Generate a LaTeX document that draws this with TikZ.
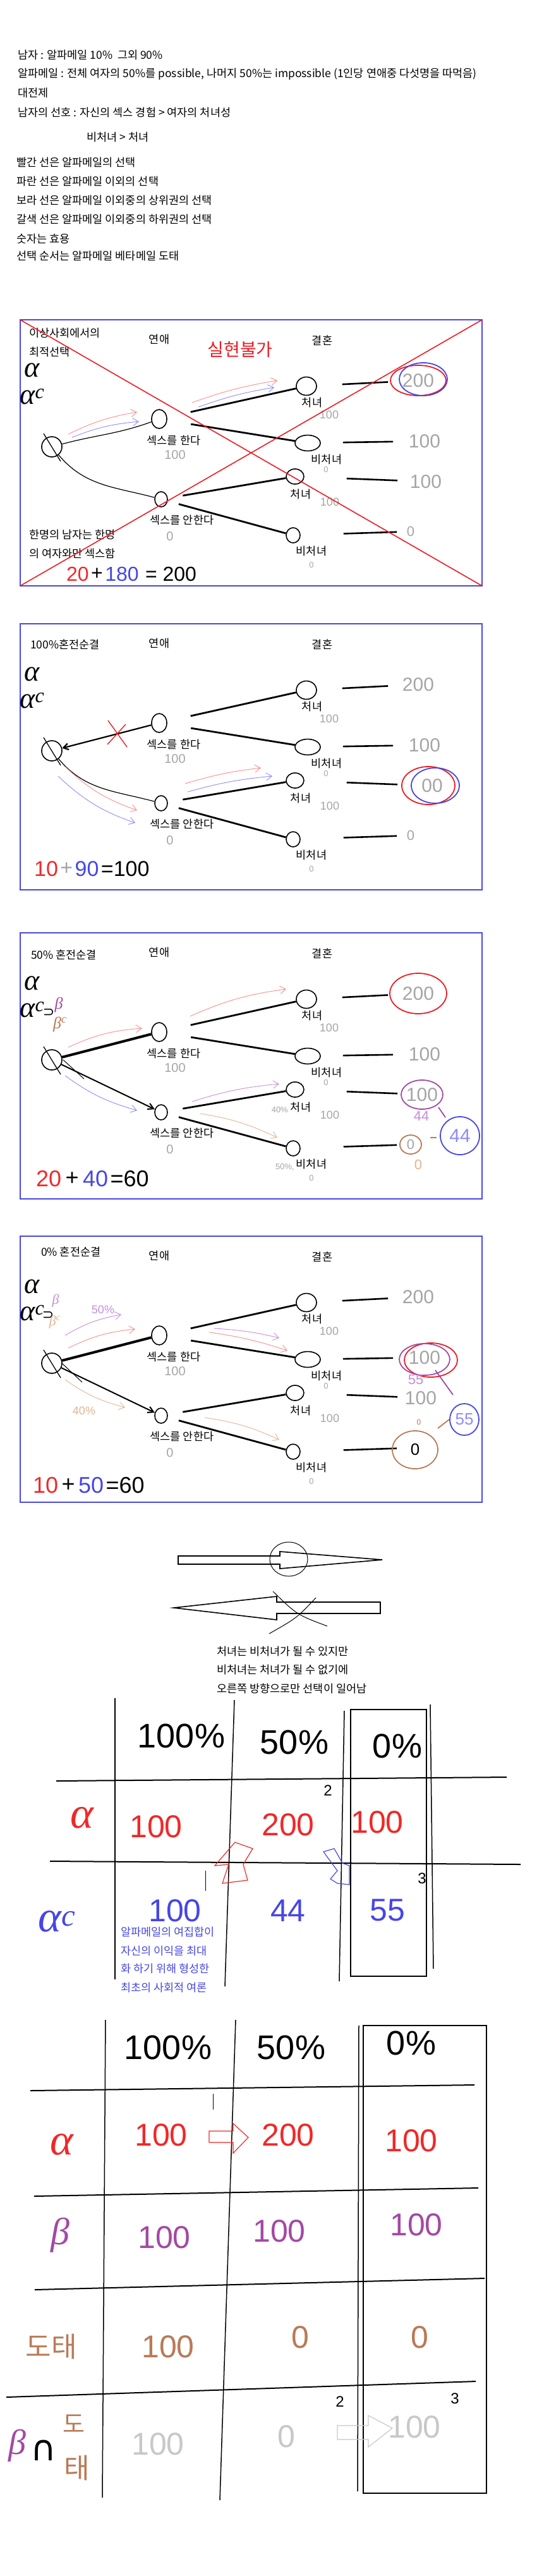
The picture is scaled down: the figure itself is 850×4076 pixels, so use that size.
\documentclass[tikz,border=0pt]{standalone}
\usepackage{fontspec}
\setmainfont{Liberation Sans}
\newfontfamily\kr{Noto Sans CJK KR}
\newfontfamily\grk{Liberation Serif}
\newfontfamily\sym{DejaVu Sans}
\usetikzlibrary{arrows.meta,shapes.geometric,positioning,calc}
\definecolor{boxblue}{RGB}{72,72,224}
\definecolor{xred}{RGB}{237,28,36}
\definecolor{penred}{RGB}{240,40,40}
\definecolor{penpink}{RGB}{250,140,140}
\definecolor{penblue}{RGB}{70,70,230}
\definecolor{penlblue}{RGB}{140,140,250}
\definecolor{penpurple}{RGB}{163,73,164}
\definecolor{penlpurple}{RGB}{200,140,220}
\definecolor{penbrown}{RGB}{185,122,87}
\definecolor{penlbrown}{RGB}{225,180,145}
\definecolor{pengray}{RGB}{165,165,165}
\definecolor{penlgray}{RGB}{200,200,200}
\tikzset{
  kortext/.style={font=\kr\fontsize{17.5}{20}\selectfont,inner sep=0pt},
  hand/.style={font=\fontsize{#1}{#1}\selectfont,inner sep=0pt},
  greek/.style={font=\grk\itshape\fontsize{#1}{#1}\selectfont,inner sep=0pt},
  choice/.style={draw,ellipse,line width=1.6pt,inner sep=0pt},
  branch/.style={line width=2.8pt},
  payoff/.style={line width=2.6pt},
  pen/.style={line width=0.9pt,-{Straight Barb[length=9pt,width=12pt]}},
  ring/.style={line width=1.8pt},
  grid/.style={line width=1.5pt},
}
% one game tree box: #1 name prefix, #2 top edge
\newcommand\gametree[2]{%
  \begin{scope}[yshift=-#2pt]
    \coordinate (#1nw) at (32,0);
    \coordinate (#1ne) at (763,0);
    \coordinate (#1sw) at (32,421);
    \coordinate (#1se) at (763,421);
    \draw[boxblue,line width=2.2pt] (#1nw) rectangle (#1se);
    \node[kortext] (#1dating) at (252,31) {연애};
    \node[kortext] (#1marriage) at (510,33) {결혼};
    \node[greek=46] (#1alpha) at (51,80) {α};
    \node[greek=46] (#1alphac) at (51,122) {α\textsuperscript{c}};
    % choice nodes
    \node[choice,minimum width=32pt,minimum height=32pt] (#1root) at (82,201) {};
    \draw[line width=1.3pt] ([shift={(-13,-21)}]#1root.center) -- ([shift={(14,23)}]#1root.center);
    \node[choice,minimum width=24pt,minimum height=30pt] (#1sex) at (252,157) {};
    \node[choice,minimum width=20pt,minimum height=24pt] (#1nosex) at (255,284) {};
    \node[kortext] (#1sexlbl) at (275,191) {섹스를 한다};
    \node[hand=20,pengray] (#1sexval) at (277,214) {100};
    \node[kortext] (#1nosexlbl) at (288,317) {섹스를 안한다};
    \node[hand=20,pengray] (#1nosexval) at (269,343) {0};
    \node[choice,minimum width=32pt,minimum height=29pt] (#1v1) at (485,105) {};
    \node[choice,minimum width=40pt,minimum height=25pt] (#1n1) at (487,195) {};
    \node[choice,minimum width=28pt,minimum height=24pt] (#1v2) at (467,248) {};
    \node[choice,minimum width=22pt,minimum height=24pt] (#1n2) at (464,341) {};
    \node[kortext] (#1v1lbl) at (494,131) {처녀};
    \node[hand=18,pengray] (#1v1val) at (521,150) {100};
    \node[kortext] (#1n1lbl) at (517,221) {비처녀};
    \node[hand=13,pengray] (#1n1val) at (516,237) {0};
    \node[kortext] (#1v2lbl) at (476,276) {처녀};
    \node[hand=18,pengray] (#1v2val) at (522,288) {100};
    \node[kortext] (#1n2lbl) at (493,366) {비처녀};
    \node[hand=13,pengray] (#1n2val) at (493,388) {0};
    \draw[branch,shorten <=38pt] (#1sex) -- (#1v1);
    \draw[branch,shorten <=38pt] (#1sex) -- (#1n1);
    \draw[branch,shorten <=24pt] (#1nosex) -- (#1v2);
    \draw[branch,shorten <=18pt] (#1nosex) -- (#1n2);
    % payoffs
    \coordinate (#1p1) at (662,96);
    \coordinate (#1p2) at (672,192);
    \coordinate (#1p3) at (674,256);
    \coordinate (#1p4) at (650,335);
    \draw[payoff,shorten <=40pt,shorten >=48pt] (#1v1) -- (#1p1);
    \draw[payoff,shorten <=35pt,shorten >=50pt] (#1n1) -- (#1p2);
    \draw[payoff,shorten <=67pt,shorten >=45pt] (#1v2) -- (#1p3);
    \draw[payoff,shorten <=68pt,shorten >=22pt] (#1n2) -- (#1p4);
  \end{scope}}

\begin{document}
\begin{tikzpicture}[x=1pt,y=-1pt]
\useasboundingbox (0,0) rectangle (850,4076);

% premises
\node[kortext,anchor=west] (premise) at (28,87) {남자 : 알파메일 10\%\ \ 그외 90\%};
\node[kortext,anchor=west] (premiseb) at (28,117) {알파메일 : 전체 여자의 50\%를 possible, 나머지 50\%는 impossible (1인당 연애중 다섯명을 따먹음)};
\node[kortext,anchor=west] (premisec) at (28,147) {대전제};
\node[kortext,anchor=west] (pref) at (28,178) {남자의 선호 : 자신의 섹스 경험 > 여자의 처녀성};
\node[kortext,anchor=west] (prefb) at (137,217) {비처녀 > 처녀};
\node[kortext,anchor=west] (legend) at (26,257) {빨간 선은 알파메일의 선택};
\node[kortext,anchor=west] (legendb) at (26,287) {파란 선은 알파메일 이외의 선택};
\node[kortext,anchor=west] (legendc) at (26,317) {보라 선은 알파메일 이외중의 상위권의 선택};
\node[kortext,anchor=west] (legendd) at (26,347) {갈색 선은 알파메일 이외중의 하위권의 선택};
\node[kortext,anchor=west] (legende) at (26,378) {숫자는 효용};
\node[kortext,anchor=west] (legendf) at (26,405) {선택 순서는 알파메일 베타메일 도태};

% box 1
\gametree{ideal}{506}
\node[kortext,anchor=west] (idealtitle) at (46,527) {이상사회에서의};
\node[kortext,anchor=west] (idealtitleb) at (46,557) {최적선택};
\node[kortext,text=xred,font=\kr\fontsize{28}{30}\selectfont] (idealfail) at (380,553) {실현불가};
\draw[line width=1.2pt] (idealroot) to[out=15,in=200] (idealsex);
\draw[line width=1.2pt] (idealroot) to[out=-50,in=165] (idealnosex);
\draw[pen,penpink] (108,687) to[bend left=8] (217,652);
\draw[pen,penlblue] (114,692) to[bend left=8] (220,667);
\draw[pen,penpink] (304,637) to[bend left=5] (439,602);
\draw[pen,penlblue] (314,644) to[bend left=5] (434,613);
\node[hand=30,pengray] (idealu1) at (idealp1) {200};
\node[hand=30,pengray] (idealu2) at (idealp2) {100};
\node[hand=30,pengray] (idealu3) at (idealp3) {100};
\node[hand=22,pengray] (idealu4) at (idealp4) {0};
\draw[ring,xred] (idealu1) ellipse [x radius=44pt,y radius=24pt];
\draw[ring,penblue] ([xshift=8pt,yshift=2pt]idealu1) ellipse [x radius=38pt,y radius=26pt];
\node[kortext,anchor=west] (idealnote) at (46,846) {한명의 남자는 한명};
\node[kortext,anchor=west] (idealnoteb) at (46,876) {의 여자와만 섹스함};
\node[hand=32,penred,anchor=west] (idealsum) at (105,908) {20};
\node[hand=32,right=3pt of idealsum] (idealplus) {+};
\node[hand=32,penblue,right=3pt of idealplus] (idealbeta) {180};
\node[hand=32,right=10pt of idealbeta] (idealtotal) {= 200};
\draw[xred,line width=1.6pt] (idealnw) -- (idealse) (idealsw) -- (idealne);

% box 2
\gametree{full}{987}
\node[kortext,anchor=west] (fulltitle) at (48,1020) {100\%혼전순결};
\draw[line width=2.2pt,-{Straight Barb[length=8pt,width=10pt]}] (fullsex) -- (fullroot);
\draw[xred,line width=1.4pt] (171,1140) -- (201,1182) (199,1146) -- (170,1178);
\draw[line width=1.2pt] (fullroot) to[out=-50,in=165] (fullnosex);
\draw[pen,penpink] (103,1213) to[bend right=12] (217,1282);
\draw[pen,penlblue] (92,1228) to[bend right=12] (214,1302);
\draw[pen,penpink] (293,1240) to[bend left=5] (413,1215);
\draw[pen,penlblue] (297,1253) to[bend left=5] (431,1228);
\node[hand=30,pengray] (fullu1) at (fullp1) {200};
\node[hand=30,pengray] (fullu2) at (fullp2) {100};
\node[hand=30,pengray] (fullu3) at ([xshift=10pt]fullp3) {00};
\node[hand=22,pengray] (fullu4) at (fullp4) {0};
\draw[ring,xred] ([xshift=-6pt]fullu3) ellipse [x radius=42pt,y radius=30pt];
\draw[ring,penblue] ([xshift=5pt]fullu3) ellipse [x radius=38pt,y radius=28pt];
\node[hand=34,penred,anchor=west] (fullsum) at (54,1375) {10};
\node[hand=34,pengray,right=3pt of fullsum] (fullplus) {+};
\node[hand=34,penblue,right=3pt of fullplus] (fullbeta) {90};
\node[hand=34,right=3pt of fullbeta] (fulltotal) {=100};

% box 3
\gametree{half}{1476}
\node[kortext,anchor=west] (halftitle) at (49,1511) {50\% 혼전순결};
\node[font=\sym\fontsize{22}{22}\selectfont,inner sep=0pt] (halfsup) at (77,1602) {⊃};
\node[greek=26,penpurple] (halfbeta) at (93,1590) {β};
\node[greek=26,penbrown] (halfbetac) at (95,1621) {β\textsuperscript{c}};
\draw[line width=4pt] (halfroot) -- (halfsex);
\draw[line width=2pt,-{Straight Barb[length=9pt,width=10pt]}] (halfroot) -- (halfnosex);
\draw[line width=1pt] (100,1677) -- (133,1707);
\node[hand=13,pengray,anchor=east] (halfpct) at (456,1756) {40\%};
\node[hand=13,pengray,anchor=east] (halfpctb) at (466,1847) {50\%,};
\draw[pen,penpink] (108,1657) to[bend left=10] (225,1627);
\draw[pen,penpink] (301,1608) to[bend left=8] (453,1565);
\draw[pen,penlblue] (103,1702) to[bend right=10] (217,1757);
\draw[pen,penlpurple] (304,1743) to[bend left=6] (442,1715);
\draw[pen,penlbrown] (317,1762) to[bend left=8] (439,1800);
\node[hand=30,pengray] (halfu1) at (halfp1) {200};
\node[hand=30,pengray] (halfu2) at (halfp2) {100};
\node[hand=30,pengray] (halfu3) at ([xshift=-6pt]halfp3) {100};
\node[hand=22,pengray] (halfu4) at (halfp4) {0};
\draw[ring,xred] (halfu1) ellipse [x radius=45pt,y radius=32pt];
\draw[ring,penpurple] (halfu3) ellipse [x radius=33pt,y radius=23pt];
\node[hand=22,penlpurple] (halfshare) at (667,1766) {44};
\draw[ring,penpurple] (694,1752) -- (705,1768);
\node[hand=30,penlblue] (halfalt) at (728,1797) {44};
\draw[ring,penblue] (halfalt) ellipse [x radius=31pt,y radius=30pt];
\draw[ring,penbrown] (halfu4) ellipse [x radius=17pt,y radius=15pt];
\draw[ring,penbrown] (681,1800) -- (691,1800);
\node[hand=22,penlbrown] (halflow) at (662,1843) {0};
\node[hand=36,penred,anchor=west] (halfsum) at (57,1865) {20};
\node[hand=36,right=6pt of halfsum] (halfplus) {+};
\node[hand=36,penblue,right=6pt of halfplus] (halfbetasum) {40};
\node[hand=36,right=3pt of halfbetasum] (halftotal) {=60};

% box 4
\gametree{none}{1956}
\node[kortext,anchor=west] (nonetitle) at (65,1981) {0\% 혼전순결};
\node[font=\sym\fontsize{22}{22}\selectfont,inner sep=0pt] (nonesup) at (76,2081) {⊃};
\node[greek=22,penlpurple] (nonebeta) at (88,2058) {β};
\node[greek=22,penlbrown] (nonebetac) at (87,2092) {β\textsuperscript{c}};
\draw[line width=4pt] (noneroot) -- (nonesex);
\draw[line width=2pt,-{Straight Barb[length=9pt,width=10pt]}] (noneroot) -- (nonenosex);
\draw[line width=1pt] (98,2157) -- (130,2187);
\draw[pen,penlpurple] (103,2113) to[bend left=10] (192,2080);
\node[hand=18,penlpurple] (nonepcta) at (163,2072) {50\%};
\draw[pen,penpink] (108,2133) to[bend left=10] (214,2103);
\draw[pen,penlbrown] (103,2183) to[bend right=10] (198,2227);
\node[hand=18,penlbrown] (nonepctb) at (133,2232) {40\%};
\draw[pen,penlpurple] (339,2102) to[bend left=5] (442,2117);
\draw[pen,penpink] (331,2108) to[bend left=5] (455,2137);
\draw[pen,penlbrown] (324,2243) to[bend left=8] (442,2278);
\node[hand=30,pengray] (noneu1) at (nonep1) {200};
\node[hand=30,pengray] (noneu2) at (nonep2) {100};
\node[hand=30,pengray] (noneu3) at ([xshift=-8pt]nonep3) {100};
\node[hand=26] (noneu4) at ([xshift=7pt,yshift=-3pt]nonep4) {0};
\draw[ring,xred] ([xshift=10pt,yshift=-4pt]noneu2) ellipse [x radius=42pt,y radius=27pt];
\draw[ring,penpurple] ([yshift=-3pt]noneu2) ellipse [x radius=40pt,y radius=25pt];
\node[hand=22,penlpurple] (noneshare) at (658,2183) {55};
\draw[ring,penpurple] (689,2168) -- (717,2207);
\node[hand=12,penbrown] (nonelow) at (663,2250) {0};
\draw[ring,penbrown] (noneu4) ellipse [x radius=36pt,y radius=30pt];
\draw[ring,penbrown] (693,2260) -- (711,2246);
\node[hand=26,penlblue] (nonealt) at (735,2246) {55};
\draw[ring,penblue] (nonealt) ellipse [x radius=23pt,y radius=25pt];
\node[hand=36,penred,anchor=west] (nonesum) at (52,2350) {10};
\node[hand=36,right=5pt of nonesum] (noneplus) {+};
\node[hand=36,penblue,right=5pt of noneplus] (nonebetasum) {50};
\node[hand=36,right=3pt of nonebetasum] (nonetotal) {=60};

% direction arrows
\draw[line width=1.6pt] (282,2462) -- (443,2462) -- (443,2455) -- (605,2468) -- (443,2482) -- (443,2475) -- (282,2475) -- cycle;
\draw[line width=1pt] (457,2467) ellipse [x radius=30pt,y radius=27pt];
\draw[line width=1.6pt] (602,2535) -- (438,2535) -- (438,2526) -- (275,2544) -- (438,2563) -- (438,2553) -- (602,2553) -- cycle;
\draw[line width=1pt] (432,2518) .. controls (470,2555) .. (518,2573);
\draw[line width=1pt] (500,2528) .. controls (470,2560) .. (426,2585);
\node[kortext,anchor=west] (dirnote) at (343,2613) {처녀는 비처녀가 될 수 있지만};
\node[kortext,anchor=west] (dirnoteb) at (343,2642) {비처녀는 처녀가 될 수 없기에};
\node[kortext,anchor=west] (dirnotec) at (343,2672) {오른쪽 방향으로만 선택이 일어남};

% table 1
\draw[grid] (182,2687) -- (182,3132);
\draw[grid] (371,2690) -- (356,3143);
\draw[grid] (545,2707) -- (537,3135);
\draw[line width=2pt] (555,2705) rectangle (675,3127);
\draw[grid] (681,2697) -- (686,3115);
\draw[line width=2pt] (89,2818) -- (802,2812);
\draw[line width=2pt] (79,2945) -- (824,2950);
\node[hand=54] (tabAhead) at (287,2747) {100\%};
\node[hand=54] (tabAheadb) at (466,2757) {50\%};
\node[hand=54] (tabAheadc) at (629,2763) {0\%};
\node[hand=24] (tabAtwo) at (519,2833) {2};
\node[hand=24] (tabAthree) at (668,2972) {3};
\draw[line width=1pt] (325,2960) -- (325,2992);
\node[greek=70,penred] (tabAalpha) at (130,2876) {α};
\node[hand=50,penred] (tabAa) at (247,2890) {100};
\node[hand=50,penred] (tabAb) at (456,2887) {200};
\node[hand=50,penred] (tabAc) at (597,2883) {100};
\draw[penred,line width=1.2pt] (352,2980) -- (362,2950) -- (340,2952) -- (372,2915) -- (400,2925) -- (385,2950) -- (392,2975) -- cycle;
\draw[penblue,line width=1.2pt] (512,2930) -- (529,2925) -- (542,2948) -- (553,2952) -- (553,2982) -- (534,2980) -- (523,2973) -- (534,2960) -- cycle;
\node[greek=70,penblue] (tabAalphac) at (90,3040) {α\textsuperscript{c}};
\node[hand=50,penblue] (tabAd) at (277,3023) {100};
\node[hand=50,penblue] (tabAe) at (456,3023) {44};
\node[hand=50,penblue] (tabAf) at (613,3023) {55};
\node[kortext,text=penblue,anchor=west] (tabAnote) at (191,3057) {알파메일의 여집합이};
\node[kortext,text=penblue,anchor=west] (tabAnoteb) at (191,3087) {자신의 이익을 최대};
\node[kortext,text=penblue,anchor=west] (tabAnotec) at (191,3115) {화 하기 위해 형성한};
\node[kortext,text=penblue,anchor=west] (tabAnoted) at (191,3145) {최초의 사회적 여론};

% table 2
\draw[grid] (167,3196) -- (162,3952);
\draw[grid] (373,3196) -- (348,3956);
\draw[grid] (568,3205) -- (566,3942);
\draw[line width=2pt] (575,3205) rectangle (770,3945);
\draw[line width=2pt] (48,3308) -- (751,3299);
\draw[line width=2pt] (54,3475) -- (757,3462);
\draw[line width=2pt] (55,3623) -- (767,3605);
\draw[line width=2pt] (10,3793) -- (753,3768);
\node[hand=54] (tabBhead) at (266,3240) {100\%};
\node[hand=54] (tabBheadb) at (461,3240) {50\%};
\node[hand=54] (tabBheadc) at (651,3233) {0\%};
\draw[line width=1pt] (337,3313) -- (337,3338);
\node[greek=70,penred] (tabBalpha) at (98,3393) {α};
\node[hand=50,penred] (tabBa) at (255,3378) {100};
\draw[penred,line width=1.2pt] (331,3372) -- (369,3372) -- (369,3360) -- (393,3382) -- (369,3407) -- (369,3390) -- (331,3390) -- cycle;
\node[hand=50,penred] (tabBb) at (456,3378) {200};
\node[hand=50,penred] (tabBc) at (651,3387) {100};
\node[greek=60,penpurple] (tabBbeta) at (95,3537) {β};
\node[hand=50,penpurple] (tabBd) at (260,3540) {100};
\node[hand=50,penpurple] (tabBe) at (442,3530) {100};
\node[hand=50,penpurple] (tabBf) at (659,3520) {100};
\node[kortext,text=penbrown,font=\kr\fontsize{44}{46}\selectfont] (tabBcull) at (81,3713) {도태};
\node[hand=50,penbrown] (tabBg) at (266,3713) {100};
\node[hand=50,penbrown] (tabBh) at (475,3698) {0};
\node[hand=50,penbrown] (tabBi) at (664,3698) {0};
\node[hand=24] (tabBtwo) at (538,3800) {2};
\node[hand=24] (tabBthree) at (720,3795) {3};
\node[greek=56,penpurple] (tabBbetab) at (27,3870) {β};
\node[font=\sym\fontsize{56}{56}\selectfont,inner sep=0pt] (tabBcap) at (69,3877) {∩};
\node[kortext,text=penbrown,font=\kr\fontsize{38}{40}\selectfont] (tabBcullA) at (117,3835) {도};
\node[kortext,text=penbrown,font=\kr\fontsize{44}{46}\selectfont] (tabBcullB) at (122,3905) {태};
\node[hand=50,penlgray] (tabBj) at (250,3867) {100};
\node[hand=50,penlgray] (tabBk) at (453,3855) {0};
\draw[penlgray,line width=1.2pt] (534,3838) -- (583,3838) -- (583,3822) -- (621,3842) -- (583,3872) -- (583,3860) -- (534,3860) -- cycle;
\node[hand=50,penlgray,anchor=west] (tabBl) at (614,3840) {100};
\end{tikzpicture}
\end{document}
